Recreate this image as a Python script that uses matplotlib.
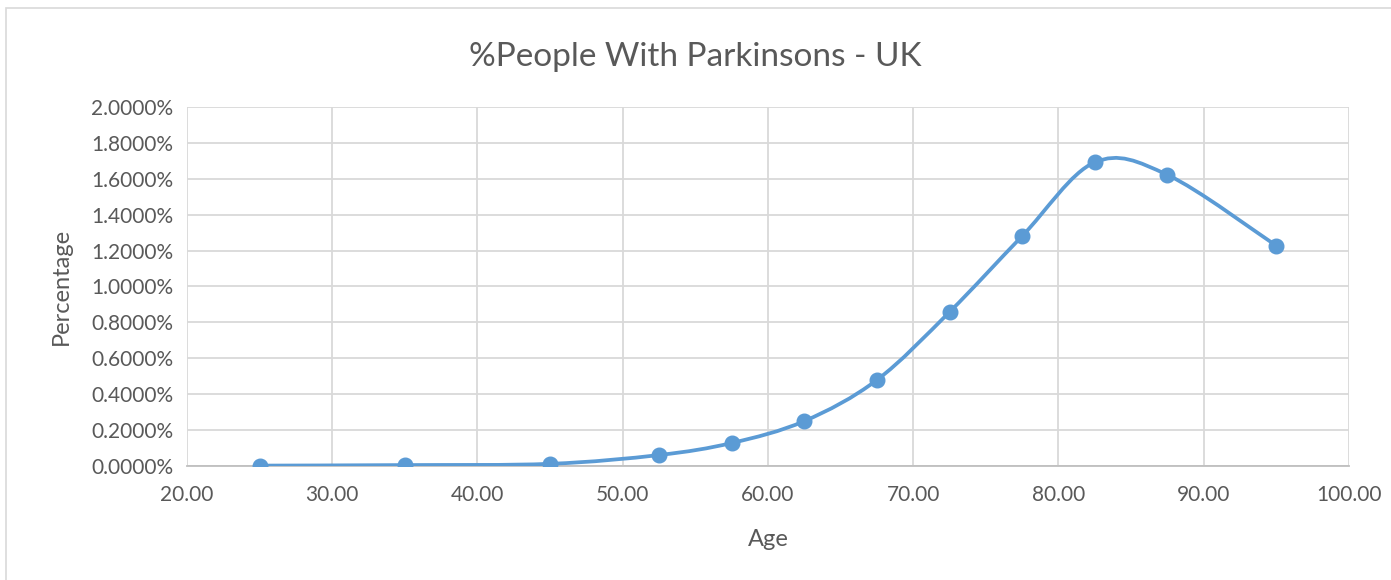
import matplotlib.pyplot as plt
from matplotlib.path import Path
from matplotlib.patches import PathPatch, Rectangle
from matplotlib.ticker import FuncFormatter, MultipleLocator
import numpy as np

# values
ages = [25, 35, 45, 52.5, 57.5, 62.5, 67.5, 72.5, 77.5, 82.5, 87.5, 95]
pct = [0.002, 0.005, 0.012, 0.061, 0.128, 0.250, 0.479, 0.858, 1.281, 1.692, 1.622, 1.227]

line_col = '#5B9BD5'
grid_col = '#D9D9D9'
text_col = '#595959'

plt.rcParams['font.family'] = ['Lato', 'DejaVu Sans']


def smooth_path(x, y):
    # Excel-like smoothed line: cubic bezier with catmull-rom style handles
    pts = np.column_stack([x, y]).astype(float)
    n = len(pts)
    verts = [pts[0]]
    codes = [Path.MOVETO]
    for i in range(n - 1):
        p0 = pts[i - 1] if i > 0 else pts[i]
        p1 = pts[i]
        p2 = pts[i + 1]
        p3 = pts[i + 2] if i + 2 < n else pts[i + 1]
        c1 = p1 + (p2 - p0) / 6.0
        c2 = p2 - (p3 - p1) / 6.0
        verts += [c1, c2, p2]
        codes += [Path.CURVE4] * 3
    return Path(verts, codes)


fig = plt.figure(figsize=(13.91, 5.80), dpi=100)
ax = fig.add_axes([0.1344, 0.1966, 0.9698 - 0.1344, 0.8155 - 0.1966])

ax.add_patch(PathPatch(smooth_path(ages, pct), facecolor='none',
                       edgecolor=line_col, lw=2.7, zorder=3, capstyle='round'))
ax.plot(ages, pct, 'o', color=line_col, markersize=10.5, zorder=4)

ax.set_xlim(20, 100)
ax.set_ylim(0, 2.0)
ax.xaxis.set_major_locator(MultipleLocator(10))
ax.yaxis.set_major_locator(MultipleLocator(0.2))
ax.xaxis.set_major_formatter(FuncFormatter(lambda v, p: f'{v:.2f}'))
ax.yaxis.set_major_formatter(FuncFormatter(lambda v, p: f'{v:.4f}%'))
ax.grid(True, color=grid_col, lw=1.3)
ax.set_axisbelow(True)
for s in ['top', 'right', 'left']:
    ax.spines[s].set_visible(False)
ax.spines['bottom'].set_color('#BFBFBF')
ax.spines['bottom'].set_linewidth(1.3)
ax.tick_params(axis='both', length=0, labelsize=15, colors=text_col)
ax.tick_params(axis='x', pad=14)
ax.tick_params(axis='y', pad=10)

ax.set_xlabel('Age', fontsize=17, color=text_col, labelpad=17)
ax.set_ylabel('Percentage', fontsize=17, color=text_col, labelpad=14)
fig.text(0.5, 0.902, '%People With Parkinsons - UK', ha='center', va='center',
         fontsize=24, color=text_col)

fig.patches.append(Rectangle((0.004, -0.01), 0.999, 0.996, transform=fig.transFigure,
                             fill=False, edgecolor=grid_col, lw=1.2))

fig.savefig('out.png', dpi=100)
